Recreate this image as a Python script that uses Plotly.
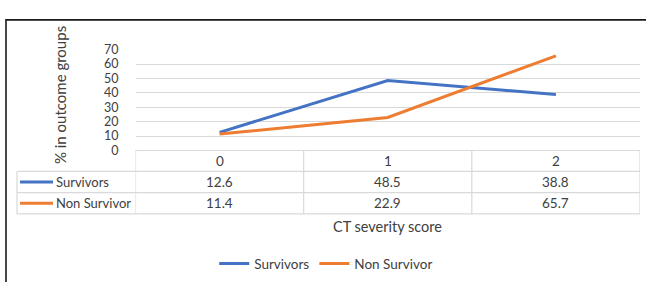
import plotly.graph_objects as go

categories = ["0", "1", "2"]
series_names = ["Survivors", "Non Survivor"]
survivors = [12.6, 48.5, 38.8]
non_survivor = [11.4, 22.9, 65.7]
y_ticks = [0, 10, 20, 30, 40, 50, 60, 70]

W, H = 646, 282
COLORS = ["#4472C4", "#ED7D31"]
GRID = "#d9d9d9"
TXT = "#404040"
FONT = "Lato"

def px(x):
    return x / W

def py(y):
    return 1 - y / H

plot_left, plot_right = 135.5, 640
plot_top, plot_bottom = 44, 150.5
row_edges = [150.5, 172.5, 195, 217.5]
label_left = 17

fig = go.Figure()
series = [survivors, non_survivor]
xs = [0, 1, 2]
for name, vals, col in zip(series_names, series, COLORS):
    fig.add_trace(go.Scatter(x=xs, y=vals, mode="lines", name=name,
                             line=dict(color=col, width=3)))

shapes = []
# frame
shapes.append(dict(type="rect", xref="paper", yref="paper",
                   x0=px(6), x1=1.2, y0=-0.2, y1=py(12.5),
                   line=dict(color="#1a1a1a", width=1.6), layer="below"))
# table horizontal lines
shapes.append(dict(type="line", xref="paper", yref="paper",
                   x0=px(plot_left), x1=px(plot_right), y0=py(row_edges[0]), y1=py(row_edges[0]),
                   line=dict(color=GRID, width=1.2)))
for ye in row_edges[1:]:
    shapes.append(dict(type="line", xref="paper", yref="paper",
                       x0=px(label_left), x1=px(plot_right), y0=py(ye), y1=py(ye),
                       line=dict(color=GRID, width=1.2)))
# table vertical lines
for xb in [-0.5, 0.5, 1.5, 2.5]:
    shapes.append(dict(type="line", xref="x", yref="paper",
                       x0=xb, x1=xb, y0=py(row_edges[0]), y1=py(row_edges[-1]),
                       line=dict(color=GRID, width=1.2)))
shapes.append(dict(type="line", xref="paper", yref="paper",
                   x0=px(label_left), x1=px(label_left), y0=py(row_edges[1]), y1=py(row_edges[-1]),
                   line=dict(color=GRID, width=1.2)))

annotations = []
# header row
for i, c in enumerate(categories):
    annotations.append(dict(x=i, xref="x", y=py((row_edges[0] + row_edges[1]) / 2), yref="paper",
                            text=c, showarrow=False, font=dict(size=13.5, color=TXT, family=FONT),
                            xanchor="center", yanchor="middle"))
# data rows
for r, (name, vals, col) in enumerate(zip(series_names, series, COLORS)):
    yc = (row_edges[r + 1] + row_edges[r + 2]) / 2
    shapes.append(dict(type="line", xref="paper", yref="paper",
                       x0=px(20), x1=px(53), y0=py(yc), y1=py(yc),
                       line=dict(color=col, width=3)))
    annotations.append(dict(x=px(54), xref="paper", y=py(yc), yref="paper",
                            text=name, showarrow=False, font=dict(size=13, color=TXT, family=FONT),
                            xanchor="left", yanchor="middle"))
    for i, v in enumerate(vals):
        annotations.append(dict(x=i, xref="x", y=py(yc), yref="paper",
                                text=f"{v:.1f}", showarrow=False,
                                font=dict(size=13.5, color=TXT, family=FONT),
                                xanchor="center", yanchor="middle"))
# axis titles
annotations.append(dict(x=1, xref="x", y=py(231), yref="paper", text="CT severity score",
                        showarrow=False, font=dict(size=14.5, color=TXT, family=FONT),
                        xanchor="center", yanchor="middle"))
annotations.append(dict(x=px(60), xref="paper", y=py(92), yref="paper", text="% in outcome groups",
                        showarrow=False, textangle=-90, font=dict(size=15, color=TXT, family=FONT),
                        xanchor="center", yanchor="middle"))

fig.update_layout(
    width=W, height=H, autosize=False,
    margin=dict(l=0, r=0, t=0, b=0),
    paper_bgcolor="white", plot_bgcolor="white",
    font=dict(family=FONT, color=TXT, size=14),
    xaxis=dict(domain=[px(plot_left), px(plot_right)], range=[-0.5, 2.5],
               showgrid=False, zeroline=False, showticklabels=False, showline=False),
    yaxis=dict(domain=[py(plot_bottom), py(plot_top)], range=[0, 70],
               tickvals=y_ticks, ticktext=[str(t) for t in y_ticks],
               showgrid=True, gridcolor=GRID, gridwidth=1.2, zeroline=False,
               showline=False, ticks="", ticklabelstandoff=16,
               tickfont=dict(size=12.5, color=TXT, family=FONT)),
    showlegend=True,
    legend=dict(orientation="h", x=0.505, xanchor="center", y=py(270), yanchor="middle",
                font=dict(size=13.5, color=TXT, family=FONT), bgcolor="rgba(0,0,0,0)",
                itemwidth=30, tracegroupgap=0),
    shapes=shapes, annotations=annotations,
)

fig.write_html("out.html", config={"displayModeBar": False},
               post_script="document.body.style.margin='0';document.body.style.overflow='hidden';")
